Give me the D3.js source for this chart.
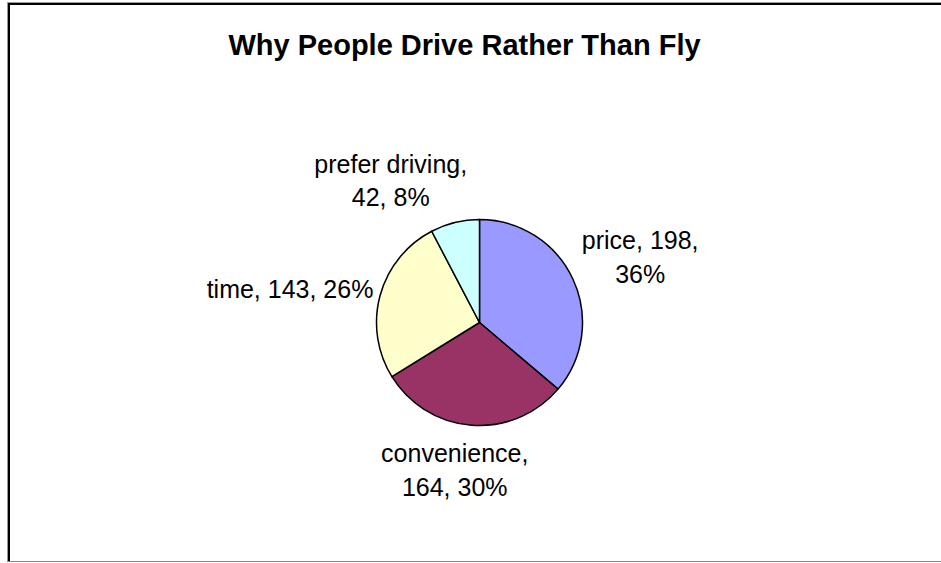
<!DOCTYPE html>
<html lang="en">
<head>
  <meta charset="UTF-8">
  <title>Why People Drive Rather Than Fly</title>
  <script src="https://d3js.org/d3.v7.min.js"></script>
  <style>
    body { margin: 0; background: #fff; }
    text { font-family: Arial, "Liberation Sans", sans-serif; fill: #000; }
  </style>
</head>
<body>
  <svg id="chart" width="941" height="563"></svg>

  <script>
    // data
    const categories = ["price", "convenience", "time", "prefer driving"];
    const counts = [198, 164, 143, 42];
    const colors = ["#9999FF", "#993366", "#FFFFCC", "#CCFFFF"];
    // how many comma parts go on the first label line (Excel wrapped them this way)
    const wrapAfter = [2, 1, 3, 1];

    const width = 941, height = 563;
    const cx = 479.5, cy = 322.5, radius = 103;
    const fontSize = 25, lineH = 33.5;

    // small hand tweaks so labels sit where Excel put them
    const labelNudge = [[7, -7], [-11, 9], [-2, -1], [-44, -7]];

    const svg = d3.select("#chart");

    // chart area frame (runs off the right side of the picture)
    svg.append("line").attr("x1", 7).attr("x2", width).attr("y1", 2.5).attr("y2", 2.5)
      .attr("stroke", "#999").attr("stroke-width", 1);
    svg.append("line").attr("x1", 7.5).attr("x2", 7.5).attr("y1", 2).attr("y2", 562)
      .attr("stroke", "#999").attr("stroke-width", 1);
    svg.append("line").attr("x1", 8).attr("x2", width).attr("y1", 4).attr("y2", 4)
      .attr("stroke", "#000").attr("stroke-width", 2);
    svg.append("line").attr("x1", 9).attr("x2", 9).attr("y1", 3).attr("y2", 561)
      .attr("stroke", "#000").attr("stroke-width", 2);
    svg.append("line").attr("x1", 7).attr("x2", width).attr("y1", 561.5).attr("y2", 561.5)
      .attr("stroke", "#888").attr("stroke-width", 1);

    svg.append("text")
      .attr("x", 464.5).attr("y", 55)
      .attr("text-anchor", "middle")
      .attr("font-size", 29).attr("font-weight", "bold")
      .text("Why People Drive Rather Than Fly");

    const total = d3.sum(counts);
    const rows = categories.map((c, i) => ({ name: c, value: counts[i], color: colors[i], i: i }));

    const pie = d3.pie().value(d => d.value).sort(null);
    const arc = d3.arc().innerRadius(0).outerRadius(radius);
    const arcs = pie(rows);

    const g = svg.append("g").attr("transform", `translate(${cx},${cy})`);
    g.selectAll("path").data(arcs)
      .join("path")
      .attr("d", arc)
      .attr("fill", d => d.data.color)
      .attr("stroke", "#000")
      .attr("stroke-width", 1.5)
      .attr("stroke-linejoin", "round");

    // labels: box sits just outside the slice, pushed out along its mid angle
    arcs.forEach(a => {
      const d = a.data;
      const pct = Math.round(d.value / total * 100) + "%";
      const parts = [d.name, String(d.value), pct];
      const lines = [parts.slice(0, wrapAfter[d.i]).join(", ") + (wrapAfter[d.i] < 3 ? "," : "")];
      if (wrapAfter[d.i] < 3) lines.push(parts.slice(wrapAfter[d.i]).join(", "));

      const t = svg.append("text")
        .attr("text-anchor", "middle")
        .attr("font-size", fontSize);
      lines.forEach((l, k) => t.append("tspan").attr("x", 0).attr("dy", k === 0 ? 0 : lineH).text(l));

      const w = d3.max(t.selectAll("tspan").nodes(), n => n.getComputedTextLength());
      const h = (lines.length - 1) * lineH + fontSize * 0.9;
      const mid = (a.startAngle + a.endAngle) / 2;
      const s = Math.sin(mid), c = Math.cos(mid);
      const px = cx + (radius + 8) * s;
      const py = cy - (radius + 8) * c;
      const bx = px + s * w / 2 + labelNudge[d.i][0];
      const by = py - c * h / 2 + labelNudge[d.i][1];
      const firstBase = by - (lines.length - 1) * lineH / 2 + fontSize * 0.36;

      t.attr("transform", `translate(${bx},${firstBase})`);
    });
  </script>
</body>
</html>
